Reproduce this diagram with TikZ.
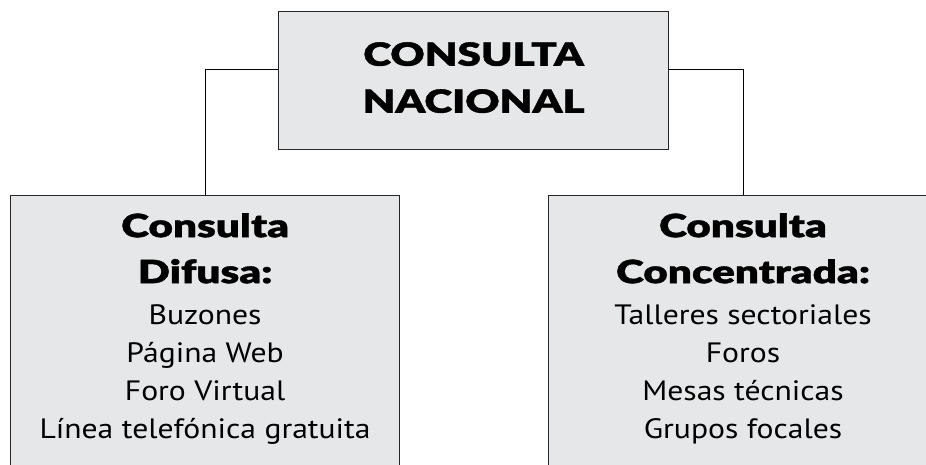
\documentclass[tikz,border=0pt]{standalone}
\usepackage{fontspec}
\setmainfont{PT Sans}[FakeStretch=1.13]
\newfontfamily\heavy{Lato Black}[FakeStretch=1.32, FakeBold=1.2]
\definecolor{boxgray}{HTML}{E6E7E8}

\begin{document}
\begin{tikzpicture}[x=1pt, y=-1pt,
    box/.style={draw=black!85, line width=1.2pt, fill=boxgray, inner sep=0pt},
    head/.style={font=\heavy\fontsize{32}{46}\selectfont, align=center, inner sep=0pt},
    items/.style={font=\fontsize{28}{38}\selectfont, align=center, inner sep=0pt}]
    \useasboundingbox (0,0) rectangle (926,464);
    \clip (0,0) rectangle (926,464);
    % the three boxes
    \node[box, anchor=north west, minimum width=390pt, minimum height=138pt] (nacional) at (278,11) {};
    \node[box, anchor=north west, minimum width=389pt, minimum height=300pt] (difusa) at (10,195) {};
    \node[box, anchor=north west, minimum width=390pt, minimum height=300pt] (concentrada) at (548,195) {};
    % texts
    \node[head, font=\heavy\fontsize{32}{47}\selectfont] (nacionalTxt) at ([yshift=3pt]nacional.center) {CONSULTA\\NACIONAL};
    \node[head, anchor=north] (difusaHead) at ([yshift=-18pt]difusa.north) {Consulta\\Difusa:};
    \node[items, anchor=north] (difusaList) at ([yshift=-21pt]difusaHead.south) {Buzones\\P\'agina Web\\Foro Virtual\\L\'inea telef\'onica gratuita};
    \node[head, anchor=north] (concentradaHead) at ([yshift=-18pt]concentrada.north -| 743,0) {Consulta\\Concentrada:};
    \node[items, anchor=north] (concentradaList) at ([yshift=-21pt]concentradaHead.south) {Talleres sectoriales\\Foros\\Mesas t\'ecnicas\\Grupos focales};
    % connectors
    \draw[line width=1pt] ([yshift=11pt]nacional.west) -| (difusa.north);
    \draw[line width=1pt] ([yshift=11pt]nacional.east) -| (concentrada.north -| 743,0);
\end{tikzpicture}
\end{document}
